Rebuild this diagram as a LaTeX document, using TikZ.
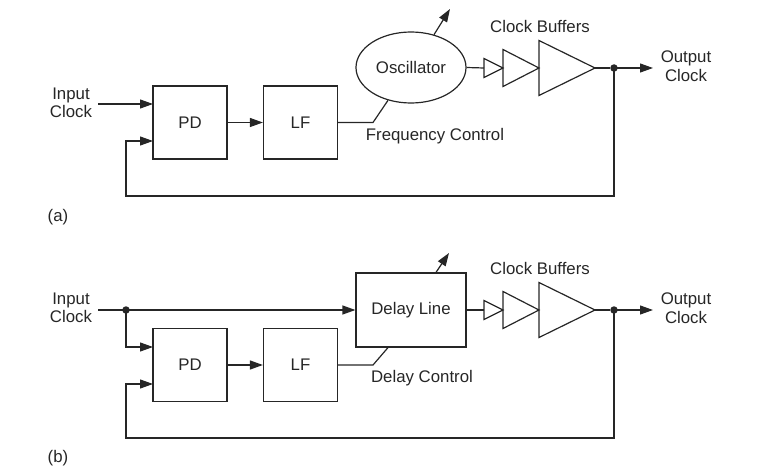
\documentclass[tikz,border=0pt]{standalone}
\usepackage{fontspec}
\setmainfont{Liberation Sans}
\usetikzlibrary{arrows.meta,shapes.geometric}
\definecolor{ink}{HTML}{262626}
\begin{document}
\begin{tikzpicture}[x=1pt,y=-1pt, line width=1.2pt, draw=ink, text=ink,
  every node/.style={font=\fontsize{16.8}{18.5}\selectfont},
  box/.style={draw, minimum width=74pt, minimum height=73pt, inner sep=0pt},
  lbl/.style={align=center, inner sep=0pt},
  arr/.style={-{Triangle[length=13pt,width=9pt]}},
  dot/.style={circle, fill=ink, draw=none, inner sep=0pt, minimum size=7.5pt},
  buf/.style={draw=ink, line width=1.2pt, line join=miter}]
\useasboundingbox (0,0) rectangle (766,473);

% ---------------- (a) ----------------
\node[box] (pd1) at (190,122.5) {PD};
\node[box] (lf1) at (300.5,122.5) {LF};
\node[draw, ellipse, minimum width=110pt, minimum height=71pt, inner sep=0pt] (osc) at (411,67.5) {Oscillator};
\node[lbl] (inlbl1) at (71,103) {Input\\Clock};
\node[lbl] (outlbl1) at (686,66) {Output\\Clock};
\node[lbl] (fc) at (435,136) {Frequency Control};
\node[lbl] (cb1) at (540,26) {Clock Buffers};
\node[lbl] (la) at (58,217) {(a)};

\coordinate (in1s) at (98,104);
\coordinate (in1e) at (153,104);
\draw[arr] (in1s) -- (in1e);
\draw[arr] (pd1) -- (lf1);
\coordinate (k1) at (373,122.5);
\draw (lf1.east) -- (k1) -- (osc.-125);
\coordinate (t1) at (450,9);
\draw[arr] (osc.55) -- (t1);

% buffers (a)
\coordinate (b1a) at (484,58.5); \coordinate (b1b) at (484,77.5); \coordinate (b1t) at (503,68);
\coordinate (b2a) at (503,49.5); \coordinate (b2b) at (503,86.5); \coordinate (b2t) at (539,68);
\coordinate (b3a) at (539,40.5); \coordinate (b3b) at (539,95.5); \coordinate (b3t) at (595,68);
\draw (osc.east) -- (b1t -| b1a);
\draw[buf] (b1a) -- (b1t) -- (b1b) -- cycle;
\draw[buf] (b2a) -- (b2t) -- (b2b) -- cycle;
\draw[buf] (b3a) -- (b3t) -- (b3b) -- cycle;
\node[dot] (d1) at (614,68) {};
\draw (b3t) -- (d1);
\coordinate (o1) at (653,68);
\draw[arr] (d1.center) -- (o1);
\coordinate (fb1) at (126,196);
\coordinate (fbin1) at (153,141);
\draw[arr] (d1.center) |- (fb1) |- (fbin1);

% ---------------- (b) ----------------
\node[box] (pd2) at (190,365) {PD};
\node[box] (lf2) at (300.5,365) {LF};
\node[draw, minimum width=110pt, minimum height=74pt, inner sep=0pt] (dl) at (411,310) {Delay Line};
\node[lbl] (inlbl2) at (71,308) {Input\\Clock};
\node[lbl] (outlbl2) at (686,308) {Output\\Clock};
\node[lbl] (dc) at (422,378) {Delay Control};
\node[lbl] (cb2) at (540,268) {Clock Buffers};
\node[lbl] (lb) at (58,458) {(b)};

\coordinate (in2s) at (98,310);
\node[dot] (d2in) at (126,310) {};
\draw (in2s) -- (d2in.center);
\draw[arr] (d2in.center) -- (dl.west);
\coordinate (pd2in) at (153,347);
\draw[arr] (d2in.center) |- (pd2in);
\draw[arr] (pd2) -- (lf2);
\coordinate (k2) at (373,365);
\draw (lf2.east) -- (k2) -- ([xshift=-23pt]dl.south);
\coordinate (t2) at (449,253);
\draw[arr] ([xshift=25pt]dl.north) -- (t2);

% buffers (b)
\coordinate (c1a) at (484,300.5); \coordinate (c1b) at (484,319.5); \coordinate (c1t) at (503,310);
\coordinate (c2a) at (503,291.5); \coordinate (c2b) at (503,328.5); \coordinate (c2t) at (539,310);
\coordinate (c3a) at (539,282.5); \coordinate (c3b) at (539,337.5); \coordinate (c3t) at (595,310);
\draw (dl.east) -- (c1t -| c1a);
\draw[buf] (c1a) -- (c1t) -- (c1b) -- cycle;
\draw[buf] (c2a) -- (c2t) -- (c2b) -- cycle;
\draw[buf] (c3a) -- (c3t) -- (c3b) -- cycle;
\node[dot] (d2) at (614,310) {};
\draw (c3t) -- (d2);
\coordinate (o2) at (653,310);
\draw[arr] (d2.center) -- (o2);
\coordinate (fb2) at (126,438);
\coordinate (fbin2) at (153,384);
\draw[arr] (d2.center) |- (fb2) |- (fbin2);
\end{tikzpicture}
\end{document}
